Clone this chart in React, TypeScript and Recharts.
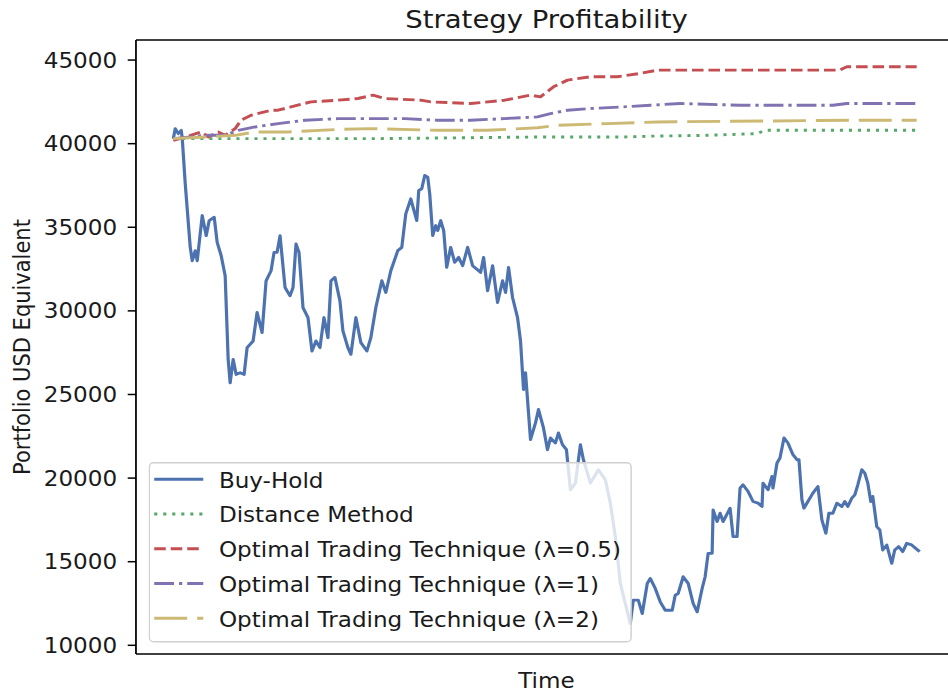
import React from 'react';
import { LineChart, Line, XAxis, YAxis, Legend } from 'recharts';

// ---- data (x = trading day index, y = portfolio value in USD) ----
const buyHoldDays = [0,2,5,8,9,12,17,19,22,24,29,33,36,41,44,48,52,55,57,60,63,67,71,74,80,84,89,93,98,101,104,107,112,117,120,123,126,130,135,139,143,147,151,155,158,162,167,170,175,178,183,188,194,198,203,209,213,218,225,229,233,238,244,246,249,252,255,257,260,263,265,268,271,274,278,282,286,290,295,300,308,311,315,320,325,330,333,336,340,345,348,351,353,358,363,366,371,375,378,383,386,390,394,398,403,408,411,418,426,433,438,443,448,453,458,461,466,470,475,478,483,488,493,500,503,506,511,516,521,525,530,533,536,540,541,545,548,551,558,561,565,568,571,576,581,586,590,591,596,600,601,605,608,612,616,621,625,627,630,632,636,641,646,650,654,657,661,665,670,673,676,680,683,686,690,693,696,699,701,705,708,711,715,720,723,727,731,735,740,744,748];
const buyHoldValues = [40300,40900,40600,40800,40300,37600,33800,33000,33600,33000,35700,34500,35400,35600,34100,33300,32100,27100,25700,27100,26200,26300,26200,27800,28200,29900,28700,31800,32400,33500,33500,34500,31400,30900,31400,34000,33500,30200,29600,27600,28200,27800,29600,28400,31800,32000,30600,28800,27800,27400,29600,28100,27600,28400,30200,31800,31100,32400,33600,33800,35800,36700,35400,37200,37300,38100,38000,37000,34500,35100,34800,35400,34800,32600,33800,32900,33200,32700,33800,32700,32300,33200,31200,32700,30500,31800,31100,32600,30800,29600,28200,25300,26300,22300,23300,24100,23000,21700,22400,22100,22700,22000,21700,19300,19700,22000,21100,19700,20500,19900,18500,16500,13700,12500,11300,12700,12700,11900,13700,14000,13400,12600,12100,12100,13000,13100,14100,13700,12500,12000,13400,14100,15500,15500,18100,17400,17900,17400,18200,16500,16500,19400,19600,19200,18600,18500,18300,19700,19300,20100,19400,20900,21200,22400,22100,21400,21100,21100,18700,18200,18600,19100,19500,17500,16700,17900,17900,18500,18300,18600,18300,18800,19000,19600,20500,20300,19700,18600,18900,17100,16900,15700,16000,14900,15700,15900,15600,16100,16000,15800,15600];

const distanceDays = [0,200,368,451,480,535,585,593,745];
const distanceValues = [40300,40300,40400,40400,40450,40500,40600,40800,40800];

const ott05Days = [0,12,28,35,45,52,62,68,78,98,105,118,138,165,185,200,212,248,258,298,332,358,368,381,395,418,445,468,485,535,668,675,745];
const ott05Values = [40200,40400,40700,40400,40700,40500,40900,41400,41700,42000,42000,42200,42500,42600,42700,42900,42700,42600,42500,42400,42600,42900,42800,43400,43800,44000,44000,44200,44400,44400,44400,44600,44600];

const ott1Days = [0,32,52,65,82,105,132,165,198,232,265,298,332,365,378,395,418,451,478,508,568,661,675,745];
const ott1Values = [40300,40500,40500,40800,41000,41200,41400,41500,41500,41500,41400,41400,41500,41600,41800,42000,42100,42200,42300,42400,42300,42300,42400,42400];

const ott2Days = [0,32,62,82,115,165,198,265,315,365,385,435,485,678,745];
const ott2Values = [40300,40400,40500,40700,40700,40850,40900,40800,40800,40950,41100,41200,41300,41400,41400];

const yTicks = [10000, 15000, 20000, 25000, 30000, 35000, 40000, 45000];

const toPoints = (days: number[], values: number[]) =>
  days.map((d, i) => ({ day: d, value: values[i] }));

const series = [
  { name: 'Buy-Hold', color: '#4C72B0', dash: undefined as string | undefined, data: toPoints(buyHoldDays, buyHoldValues) },
  { name: 'Distance Method', color: '#55A868', dash: '2.8 5.4', data: toPoints(distanceDays, distanceValues) },
  { name: 'Optimal Trading Technique (λ=0.5)', color: '#C44E52', dash: '10.5 4.5', data: toPoints(ott05Days, ott05Values) },
  { name: 'Optimal Trading Technique (λ=1)', color: '#8172B2', dash: '18 4.5 3 4.5', data: toPoints(ott1Days, ott1Values) },
  { name: 'Optimal Trading Technique (λ=2)', color: '#CCB974', dash: '30 9', data: toPoints(ott2Days, ott2Values) },
];

const FONT = '"DejaVu Sans", sans-serif';
const TEXT = '#1a1a1a';

const LegendBox = () => {
  const rows = [17.3, 52.05, 86.8, 121.55, 156.3];
  return (
    <svg width={440} height={181} style={{ display: 'block' }}>
      <rect x={0.75} y={0.75} width={438} height={179} rx={4} ry={4}
        fill="rgba(255,255,255,0.8)" stroke="#d0d0d0" strokeWidth={1.3} />
      {series.map((s, i) => (
        <g key={s.name}>
          <line x1={5.2} x2={49.8} y1={rows[i]} y2={rows[i]} stroke={s.color}
            strokeWidth={2.9} strokeDasharray={s.dash} />
          <text x={64} y={rows[i] + 8.3} fontFamily={FONT} fontSize={21} fill={TEXT}>{s.name}</text>
        </g>
      ))}
    </svg>
  );
};

export default function App() {
  return (
    <div style={{ position: 'absolute', left: 0, top: 0, width: 948, height: 693, overflow: 'hidden', background: '#fff' }}>
      <div style={{ transform: 'scaleX(1.1)', transformOrigin: '0 0', width: 880, height: 693 }}>
        <LineChart width={880} height={693} margin={{ top: 39, right: 0, bottom: 0, left: 0 }}>
          <XAxis
            xAxisId={0}
            dataKey="day"
            type="number"
            domain={[-37.4, 785.4]}
            allowDataOverflow
            tick={false}
            tickLine={false}
            height={39}
            axisLine={{ stroke: '#000', strokeWidth: 1.6 }}
            label={{ value: 'Time', position: 'insideBottom', offset: 5, fontFamily: FONT, fontSize: 21, fill: TEXT }}
          />
          <XAxis
            xAxisId="top"
            orientation="top"
            dataKey="day"
            type="number"
            domain={[-37.4, 785.4]}
            allowDataOverflow
            tick={false}
            tickLine={false}
            height={1}
            axisLine={{ stroke: '#000', strokeWidth: 1.6 }}
            label={{ value: 'Strategy Profitability', position: 'top', offset: 11.3, fontFamily: FONT, fontSize: 25, fill: TEXT }}
          />
          <YAxis
            yAxisId={0}
            type="number"
            domain={[9480, 46200]}
            allowDataOverflow
            ticks={yTicks}
            interval={0}
            width={123.6}
            tickSize={7.5}
            tickMargin={9.6}
            tickLine={{ stroke: '#000', strokeWidth: 1.5 }}
            axisLine={{ stroke: '#000', strokeWidth: 1.6 }}
            tick={{ fontFamily: FONT, fontSize: 21, fill: TEXT }}
            label={{ value: 'Portfolio USD Equivalent', angle: -90, position: 'insideLeft', offset: 19.5, fontFamily: FONT, fontSize: 21, fill: TEXT, style: { textAnchor: 'middle' } }}
          />
          <YAxis
            yAxisId="right"
            orientation="right"
            type="number"
            domain={[9480, 46200]}
            allowDataOverflow
            tick={false}
            tickLine={false}
            width={10}
            axisLine={{ stroke: '#000', strokeWidth: 1.6 }}
          />
          {series.map((s) => (
            <Line
              key={s.name}
              xAxisId={0}
              yAxisId={0}
              data={s.data}
              dataKey="value"
              name={s.name}
              type="linear"
              stroke={s.color}
              strokeWidth={2.9}
              strokeDasharray={s.dash}
              strokeLinejoin="round"
              dot={false}
              activeDot={false}
              isAnimationActive={false}
            />
          ))}
          <Legend
            layout="vertical"
            align="center"
            verticalAlign="middle"
            content={() => <LegendBox />}
            wrapperStyle={{ left: 134.5, top: 462, width: 440, height: 181, margin: 0, padding: 0 }}
          />
        </LineChart>
      </div>
    </div>
  );
}
